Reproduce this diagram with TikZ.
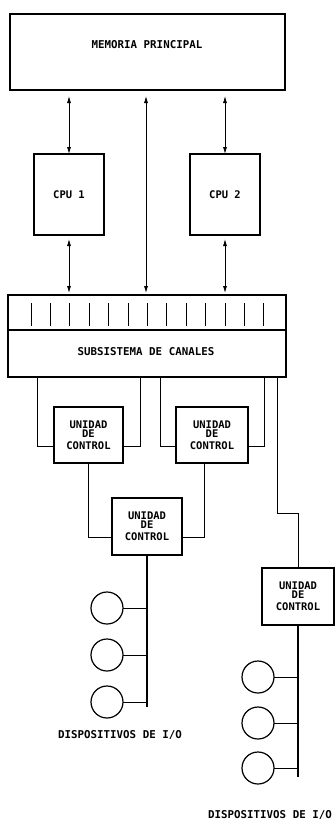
\documentclass[tikz,border=0pt]{standalone}
\usepackage{fontspec}
\setmonofont{DejaVu Sans Mono}
\usetikzlibrary{arrows.meta}
\begin{document}
\begin{tikzpicture}[x=1pt,y=-1pt,
  txt/.style={font=\ttfamily\bfseries\fontsize{10.8}{11}\selectfont, inner sep=0pt},
  box/.style={draw, line width=1.8pt, inner sep=0pt, outer sep=0pt},
  ucbox/.style={box, minimum width=70pt, minimum height=57pt, align=center,
    font=\ttfamily\bfseries\fontsize{10.5}{12}\selectfont},
  conn/.style={line width=0.8pt},
  bus/.style={line width=1.8pt},
  dev/.style={draw, circle, line width=1.2pt, minimum size=32pt, inner sep=0pt, outer sep=0pt},
  arr/.style={line width=0.8pt, {Latex[length=7pt,width=4pt]}-{Latex[length=7pt,width=4pt]}}
]
\useasboundingbox (0,0) rectangle (336,825);

% Memoria principal
\node[box, minimum width=275pt, minimum height=76pt] (mem) at (147.5,52) {};
\node[txt] (memt) at (147,45) {MEMORIA PRINCIPAL};

% CPUs
\node[box, minimum width=70pt, minimum height=81pt, font=\ttfamily\bfseries\fontsize{10.5}{11}\selectfont] (cpu1) at (69,194.5) {CPU 1};
\node[box, minimum width=70pt, minimum height=81pt, font=\ttfamily\bfseries\fontsize{10.5}{11}\selectfont] (cpu2) at (225,194.5) {CPU 2};

% Subsistema de canales
\node[box, minimum width=278pt, minimum height=82pt] (chan) at (147,336) {};
\coordinate (divl) at (8,330);
\coordinate (divr) at (286,330);
\draw[line width=1.5pt] (divl) -- (divr);
\foreach \i in {0,...,12} {
  \draw[line width=0.9pt] ({31+19.4*\i},303) -- ({31+19.4*\i},326);
}
\node[txt] (chant) at (146,352) {SUBSISTEMA DE CANALES};

% arrows
\coordinate (mid) at (146,0);
\draw[arr, shorten <=6pt] (mem.south -| cpu1.north) -- (cpu1.north);
\draw[arr, shorten <=6pt] (mem.south -| cpu2.north) -- (cpu2.north);
\draw[arr, shorten <=6pt, shorten >=2pt] (mem.south -| mid) -- (chan.north -| mid);
\draw[arr, shorten <=4pt, shorten >=2pt] (cpu1.south) -- (chan.north -| cpu1.south);
\draw[arr, shorten <=4pt, shorten >=2pt] (cpu2.south) -- (chan.north -| cpu2.south);

% Unidades de control
\node[ucbox, minimum width=69pt, minimum height=56pt] (uc1) at (88.5,435) {UNIDAD\\[-3pt]DE\\CONTROL};
\node[ucbox, minimum width=72pt, minimum height=56pt] (uc2) at (212,435) {UNIDAD\\[-3pt]DE\\CONTROL};
\node[ucbox] (uc3) at (147,526.5) {UNIDAD\\[-3pt]DE\\CONTROL};
\node[ucbox, minimum width=72pt] (uc4) at (298,596.5) {UNIDAD\\[-3pt]DE\\CONTROL};

% connections channel -> UC1, UC2
\coordinate (b1) at (37,446);
\coordinate (b2) at (140,446);
\coordinate (b3) at (160,446);
\coordinate (b4) at (264,446);
\draw[conn] (b1 |- chan.south) -- (b1) -- (b1 -| uc1.west);
\draw[conn] (b2 |- chan.south) -- (b2) -- (b2 -| uc1.east);
\draw[conn] (b3 |- chan.south) -- (b3) -- (b3 -| uc2.west);
\draw[conn] (b4 |- chan.south) -- (b4) -- (b4 -| uc2.east);

% UC1, UC2 -> UC3
\coordinate (b5) at (88.5,537);
\coordinate (b6) at (204,537);
\draw[conn] (uc1.south) -- (b5) -- (b5 -| uc3.west);
\draw[conn] (b6 |- uc2.south) -- (b6) -- (b6 -| uc3.east);

% channel -> UC4
\coordinate (b7) at (277,513);
\coordinate (b8) at (298,513);
\draw[conn] (b7 |- chan.south) -- (b7) -- (b8) -- (uc4.north);

% left devices
\coordinate (e1) at (147,707);
\draw[bus] (uc3.south) -- (e1);
\node[dev] (d1) at (107,608) {};
\node[dev] (d2) at (107,655) {};
\node[dev] (d3) at (107,702) {};
\foreach \d in {d1,d2,d3} { \draw[conn] (\d.east) -- (\d.east -| e1); }
\node[txt] (l1) at (120,735) {DISPOSITIVOS DE I/O};

% right devices
\coordinate (e2) at (298,777);
\draw[bus] (uc4.south) -- (e2);
\node[dev] (d4) at (258,677) {};
\node[dev] (d5) at (258,723) {};
\node[dev] (d6) at (258,768) {};
\foreach \d in {d4,d5,d6} { \draw[conn] (\d.east) -- (\d.east -| e2); }
\node[txt] (l2) at (270,815) {DISPOSITIVOS DE I/O};
\end{tikzpicture}
\end{document}
